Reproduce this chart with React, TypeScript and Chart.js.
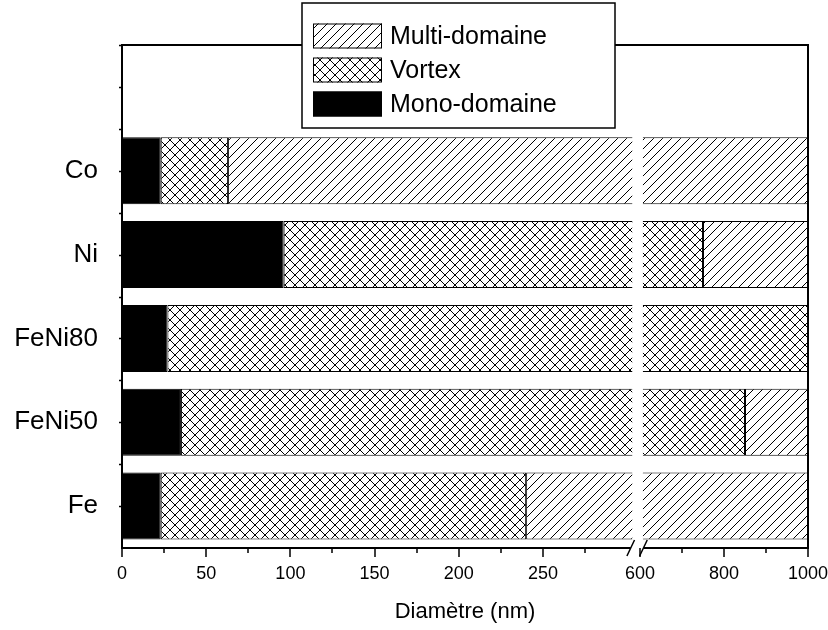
import React, { useEffect, useRef } from "react";
import { Chart, registerables, LinearScale } from "chart.js";

Chart.register(...registerables);

// ---- data ----
const categories = ["Co", "Ni", "FeNi80", "FeNi50", "Fe"];
const monoMax = [23, 96, 27, 35, 23]; // upper bound of mono-domain (nm)
const vortexMax = [63, 750, 1000, 850, 240]; // upper bound of vortex state (nm)
const axisMax = 1000;
const seriesNames = ["Multi-domaine", "Vortex", "Mono-domaine"];
const xTickLabels = [0, 50, 100, 150, 200, 250, 600, 800, 1000];
const xMinorTicks = [25, 75, 125, 175, 225, 275, 700, 900];
const xTitle = "Diamètre (nm)";

// broken axis configuration
const LEFT_MAX = 300;
const LEFT_FRAC = 0.7364;
const RIGHT_MIN = 600;
const RIGHT_FRAC = 0.7551;
const GAP_FROM = 303;
const GAP_TO = 607;

const FONT = "'Liberation Sans', Arial, Helvetica, sans-serif";

class BrokenScale extends LinearScale {
  static id = "broken";
  static defaults = LinearScale.defaults;
  buildTicks() {
    return xTickLabels.map((v) => ({ value: v }));
  }
  getPixelForValue(value: any) {
    if (value === null || value === undefined || isNaN(value)) return NaN;
    let f;
    if (value <= (LEFT_MAX + RIGHT_MIN) / 2) f = (value / LEFT_MAX) * LEFT_FRAC;
    else f = RIGHT_FRAC + ((value - RIGHT_MIN) / (axisMax - RIGHT_MIN)) * (1 - RIGHT_FRAC);
    return this.getPixelForDecimal(f);
  }
  getValueForPixel(pixel: number) {
    const f = this.getDecimalForPixel(pixel);
    if (f <= (LEFT_FRAC + RIGHT_FRAC) / 2) return (f / LEFT_FRAC) * LEFT_MAX;
    return RIGHT_MIN + ((f - RIGHT_FRAC) / (1 - RIGHT_FRAC)) * (axisMax - RIGHT_MIN);
  }
}
Chart.register(BrokenScale as any);

function makePattern(p: number, cross: boolean) {
  const c = document.createElement("canvas");
  c.width = p;
  c.height = p;
  const g = c.getContext("2d")!;
  g.fillStyle = "#fff";
  g.fillRect(0, 0, p, p);
  g.strokeStyle = "#000";
  g.lineWidth = 1;
  g.beginPath();
  g.moveTo(-1, p + 1);
  g.lineTo(p + 1, -1);
  g.moveTo(-1, 1);
  g.lineTo(1, -1);
  g.moveTo(p - 1, p + 1);
  g.lineTo(p + 1, p - 1);
  if (cross) {
    g.moveTo(-1, -1);
    g.lineTo(p + 1, p + 1);
    g.moveTo(p - 1, -1);
    g.lineTo(p + 1, 1);
    g.moveTo(-1, p - 1);
    g.lineTo(1, p + 1);
  }
  g.stroke();
  return g.createPattern(c, "repeat")!;
}

export default function App() {
  const ref = useRef<HTMLCanvasElement>(null);
  useEffect(() => {
    document.body.style.margin = "0";
    const hatch = makePattern(9, false);
    const crossHatch = makePattern(10, true);
    const fills = [hatch, crossHatch, "#000"];

    const n = categories.length;
    const pos = categories.map((_, i) => n - i);
    const monoData = categories.map((_, i) => ({ x: monoMax[i], y: pos[i] }));
    const vortexData = categories.map((_, i) => ({ x: vortexMax[i] - monoMax[i], y: pos[i] }));
    const multiData = categories.map((_, i) => ({ x: axisMax - vortexMax[i], y: pos[i] }));

    const decor = {
      id: "decor",
      afterDatasetsDraw(chart: any) {
        const ctx = chart.ctx;
        const { left, right, top, bottom } = chart.chartArea;
        const xs = chart.scales.x;
        const ys = chart.scales.y;
        const gapL = xs.getPixelForValue(GAP_FROM);
        const gapR = xs.getPixelForValue(GAP_TO);
        ctx.save();
        // break gap
        ctx.fillStyle = "#fff";
        ctx.fillRect(gapL, top + 1, gapR - gapL, bottom - top - 1);
        ctx.strokeStyle = "#000";
        ctx.lineWidth = 2;
        ctx.lineCap = "butt";
        // frame
        ctx.beginPath();
        ctx.moveTo(left, bottom);
        ctx.lineTo(left, top);
        ctx.lineTo(right, top);
        ctx.lineTo(right, bottom);
        ctx.stroke();
        const mL = gapL - 1.5;
        const mR = gapR + 0.5;
        ctx.beginPath();
        ctx.moveTo(left - 1, bottom);
        ctx.lineTo(mL, bottom);
        ctx.moveTo(mR, bottom);
        ctx.lineTo(right + 1, bottom);
        ctx.stroke();
        // x ticks
        ctx.lineWidth = 1.5;
        ctx.beginPath();
        xTickLabels.forEach((v) => {
          const px = Math.round(xs.getPixelForValue(v));
          ctx.moveTo(px, bottom);
          ctx.lineTo(px, bottom + 9);
        });
        xMinorTicks.forEach((v) => {
          const px = Math.round(xs.getPixelForValue(v));
          ctx.moveTo(px, bottom);
          ctx.lineTo(px, bottom + 5);
        });
        // y ticks (every half unit)
        for (let v = 1; v <= n + 1.5 + 1e-6; v += 0.5) {
          const py = Math.round(ys.getPixelForValue(v)) + 0.5;
          ctx.moveTo(left, py);
          ctx.lineTo(left - 3, py);
        }
        ctx.stroke();
        // break marks
        ctx.lineWidth = 1.5;
        ctx.beginPath();
        [mL, mR].forEach((cx) => {
          ctx.moveTo(cx + 3.8, bottom - 8);
          ctx.lineTo(cx - 3.8, bottom + 8);
        });
        ctx.stroke();
        // legend
        const bx = 302, by = 3, bw = 313, bh = 125;
        ctx.fillStyle = "#fff";
        ctx.fillRect(bx, by, bw, bh);
        ctx.lineWidth = 1.5;
        ctx.strokeRect(bx, by, bw, bh);
        ctx.font = `25px ${FONT}`;
        ctx.textBaseline = "middle";
        ctx.textAlign = "left";
        seriesNames.forEach((name, i) => {
          const cy = 36 + i * 34;
          ctx.fillStyle = fills[i] as any;
          ctx.fillRect(313, cy - 12.5, 69, 25);
          ctx.lineWidth = 1;
          ctx.strokeRect(313.5, cy - 12, 68, 24);
          ctx.fillStyle = "#000";
          ctx.fillText(name, 390, cy + 1);
        });
        ctx.restore();
      },
    };

    const chart = new Chart(ref.current!, {
      type: "bar",
      data: {
        datasets: [
          { label: seriesNames[2], data: monoData as any, backgroundColor: "#000", borderColor: "#000", borderWidth: 1, borderSkipped: false },
          { label: seriesNames[1], data: vortexData as any, backgroundColor: crossHatch, borderColor: "#000", borderWidth: 1, borderSkipped: false },
          { label: seriesNames[0], data: multiData as any, backgroundColor: hatch, borderColor: "#000", borderWidth: 1, borderSkipped: false },
        ],
      },
      options: {
        animation: false,
        responsive: false,
        indexAxis: "y",
        layout: { padding: { top: 45, right: 20, left: 0, bottom: 0 } },
        datasets: { bar: { categoryPercentage: 1, barPercentage: 0.8 } },
        plugins: { legend: { display: false }, tooltip: { enabled: false } },
        scales: {
          x: {
            type: "broken" as any,
            min: 0,
            max: axisMax,
            stacked: true,
            grid: { display: false, drawTicks: false },
            border: { display: false },
            ticks: {
              autoSkip: false,
              maxRotation: 0,
              padding: 15,
              color: "#000",
              font: { family: FONT, size: 18 },
              callback: (v: any) => String(v),
            },
            title: {
              display: true,
              text: xTitle,
              color: "#000",
              font: { family: FONT, size: 22 },
              padding: { top: 0, bottom: 5 },
            },
            afterFit: (s: any) => {
              s.height = 82;
              s.paddingLeft = 0;
              s.paddingRight = 0;
            },
          } as any,
          y: {
            type: "linear",
            min: 0.5,
            max: n + 1.5,
            offset: false,
            stacked: true,
            grid: { display: false, drawTicks: false },
            border: { display: false },
            afterBuildTicks: (s: any) => {
              s.ticks = pos.map((v) => ({ value: v })).reverse();
            },
            ticks: {
              autoSkip: false,
              padding: 24,
              color: "#000",
              font: { family: FONT, size: 26 },
              callback: (v: any) => {
                const i = Math.round(v);
                if (Math.abs(v - i) > 1e-6) return "";
                return categories[n - i] ?? "";
              },
            },
            afterFit: (s: any) => {
              s.width = 122;
              s.paddingTop = 0;
              s.paddingBottom = 0;
            },
          } as any,
        },
      },
      plugins: [decor],
    });
    return () => chart.destroy();
  }, []);
  return (
    <div style={{ width: 828, height: 630 }}>
      <canvas ref={ref} width={828} height={630} style={{ display: "block" }} />
    </div>
  );
}
